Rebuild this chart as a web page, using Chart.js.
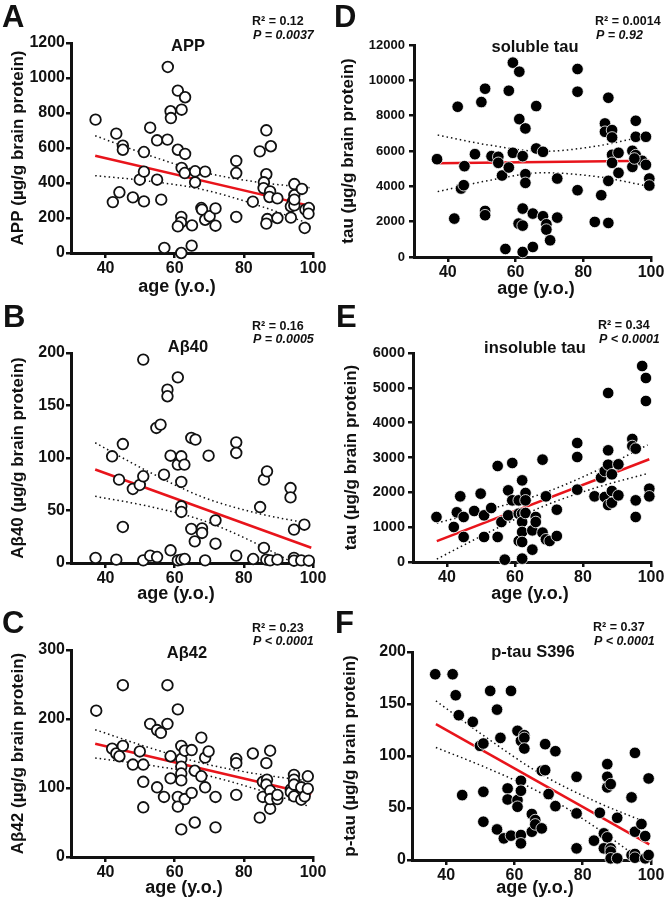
<!DOCTYPE html>
<html>
<head>
<meta charset="utf-8">
<script src="https://cdn.jsdelivr.net/npm/chart.js@4/dist/chart.umd.min.js"></script>
<style>
  body { margin: 0; background: #fff; width: 666px; height: 900px; position: relative; overflow: hidden; }
  canvas { position: absolute; }
</style>
</head>
<body>
<canvas id="panelA" width="333" height="312" style="left:0px;top:0px"></canvas>
<canvas id="panelD" width="333" height="312" style="left:333px;top:0px"></canvas>
<canvas id="panelB" width="333" height="312" style="left:0px;top:300px"></canvas>
<canvas id="panelE" width="333" height="312" style="left:333px;top:300px"></canvas>
<canvas id="panelC" width="333" height="312" style="left:0px;top:600px"></canvas>
<canvas id="panelF" width="333" height="312" style="left:333px;top:600px"></canvas>
<script>
// x axis ticks shared by all panels
var ageTicks = [40, 60, 80, 100];
var fitAge = [37, 99.5];
var bandAge = [37, 52, 68, 84, 99];

// A - APP
var appAge = [37.1, 43.1, 45.0, 45.0, 42.1, 44.0, 47.9, 51.1, 51.1, 49.9, 51.1, 52.9, 54.9, 54.9, 56.1, 57.0, 58.0, 57.9, 58.8, 58.9, 60.9, 62.0, 63.0, 60.9, 63.0, 62.0, 62.9, 61.9, 61.8, 60.9, 61.9, 64.9, 65.0, 65.9, 65.9, 67.7, 67.9, 68.8, 68.8, 70.1, 71.8, 71.8, 77.8, 77.8, 77.8, 82.6, 84.6, 86.5, 87.8, 86.5, 85.8, 85.7, 87.6, 87.4, 86.8, 86.5, 89.7, 89.7, 94.6, 94.6, 94.2, 93.6, 94.6, 93.6, 96.8, 97.8, 98.8, 98.7, 97.6, 94.6];
var appValue = [762, 682, 613, 590, 291, 347, 318, 295, 577, 419, 465, 716, 644, 419, 305, 29, 1063, 648, 810, 771, 928, 819, 890, 590, 566, 486, 457, 206, 175, 152, 0, 42, 158, 404, 467, 257, 248, 190, 465, 210, 255, 156, 457, 526, 206, 293, 581, 701, 610, 450, 404, 371, 352, 320, 194, 168, 312, 200, 394, 330, 295, 267, 272, 202, 366, 248, 257, 225, 143, 305];
var appFit = [556, 268];
var appUpper = [670, 562, 463, 405, 373];
var appLower = [442, 412, 363, 273, 167];

// D - soluble tau
var solAge = [36.8, 42.9, 41.9, 43.9, 44.7, 44.9, 48.0, 49.9, 51.0, 51.0, 51.0, 52.9, 54.9, 54.9, 56.0, 57.0, 58.0, 58.0, 59.2, 59.2, 61.1, 61.1, 62.1, 62.9, 62.9, 62.9, 62.1, 60.9, 62.1, 62.1, 65.1, 65.1, 66.1, 66.1, 68.1, 68.1, 69.1, 69.1, 70.2, 72.3, 72.3, 78.3, 78.3, 78.3, 83.4, 85.3, 87.4, 86.4, 86.4, 88.5, 88.5, 88.5, 88.5, 87.4, 87.4, 90.4, 90.4, 94.5, 94.5, 95.5, 95.5, 95.5, 97.4, 98.5, 98.5, 99.5, 99.5, 95.1];
var solValue = [5538, 8505, 2174, 3875, 4064, 5141, 5821, 8770, 9526, 2608, 2363, 5708, 5670, 5330, 4612, 454, 9412, 5065, 5897, 11000, 10490, 7806, 5708, 7277, 4687, 4196, 2741, 1890, 1777, 284, 2457, 567, 8543, 6143, 5954, 2306, 1852, 1550, 945, 4442, 2230, 10641, 9356, 3780, 1985, 3497, 9015, 7560, 7088, 7182, 6766, 5783, 5330, 4309, 1928, 5897, 4763, 6010, 5103, 7711, 6804, 5765, 5443, 6804, 5216, 4442, 4045, 5575];
var solFit = [5300, 5450];
var solUpper = [6900, 6340, 5980, 6280, 6880];
var solLower = [3700, 4330, 4770, 4550, 4020];

// B - Abeta40
var ab40Age = [37.1, 43.1, 41.9, 43.9, 45.0, 45.0, 47.9, 49.9, 50.9, 50.9, 50.9, 52.9, 54.9, 54.7, 55.9, 56.9, 57.9, 57.9, 58.8, 58.8, 60.9, 60.9, 61.9, 61.9, 61.9, 61.9, 60.9, 61.9, 62.9, 62.8, 64.8, 66.0, 64.8, 65.8, 67.9, 67.9, 68.8, 69.8, 71.8, 71.8, 77.8, 77.8, 77.8, 82.7, 84.7, 85.8, 86.7, 85.8, 86.5, 87.6, 89.7, 93.5, 93.5, 94.5, 94.5, 94.5, 96.6, 97.5, 98.8];
var ab40Value = [4.8, 3.2, 101.6, 79.4, 113.3, 34.3, 70.5, 74.3, 82.6, 193.7, 2.5, 7.0, 5.7, 128.6, 131.8, 84.1, 165.1, 158.8, 102.2, 12.1, 176.8, 93.7, 101.6, 77.2, 54.0, 48.6, 2.5, 3.2, 3.8, 93.7, 119.1, 117.5, 32.4, 20.6, 33.0, 28.6, 2.5, 102.2, 40.6, 18.4, 114.9, 104.8, 7.0, 3.8, 53.3, 79.4, 87.3, 14.3, 3.2, 2.5, 3.2, 71.4, 62.5, 31.8, 4.8, 2.2, 2.5, 36.5, 2.2];
var ab40Fit = [89, 14.5];
var ab40Upper = [114.5, 87.7, 62.9, 47.3, 37.6];
var ab40Lower = [63.5, 54.3, 40.7, 17.9, -8.4];

// E - insoluble tau
var insAge = [36.9, 42.0, 42.9, 43.9, 44.9, 44.9, 48.0, 49.9, 50.9, 50.9, 53.0, 54.9, 54.9, 56.0, 57.0, 58.0, 58.0, 59.2, 59.2, 61.1, 61.1, 61.1, 62.1, 62.1, 62.1, 62.1, 62.1, 62.1, 63.1, 63.1, 63.1, 65.1, 65.1, 66.1, 66.1, 68.1, 68.1, 69.1, 69.1, 70.2, 72.3, 72.3, 78.3, 78.3, 78.3, 83.4, 85.3, 86.4, 86.4, 87.4, 87.4, 87.4, 87.4, 88.5, 88.5, 88.5, 90.4, 90.4, 94.5, 94.5, 95.5, 95.5, 95.5, 97.4, 98.5, 98.5, 99.5, 99.5];
var insValue = [1292, 1005, 1426, 1885, 1292, 718, 1464, 1962, 1340, 718, 1550, 2756, 718, 1148, 67, 2057, 1340, 2842, 1770, 1770, 1388, 603, 2344, 1388, 1148, 861, 574, 96, 1981, 1770, 1407, 909, 354, 1292, 1148, 2938, 842, 1885, 651, 603, 1502, 746, 3416, 3014, 2077, 1885, 2421, 2612, 1866, 4852, 3206, 2794, 1636, 2517, 2038, 1703, 2804, 1914, 3531, 3330, 3254, 1770, 1292, 5627, 5282, 4622, 2105, 1885];
var insFit = [600, 2950];
var insUpper = [1117, 1500, 1964, 2623, 3360];
var insLower = [83, 838, 1586, 2139, 2540];

// C - Abeta42
var ab42Age = [37.3, 41.9, 43.1, 44.0, 45.0, 45.0, 47.9, 49.9, 50.9, 50.9, 50.9, 52.9, 54.9, 54.9, 56.0, 56.9, 57.9, 57.9, 58.8, 58.8, 60.9, 60.9, 60.9, 61.9, 61.9, 61.9, 61.9, 61.9, 61.9, 62.9, 62.9, 64.9, 64.9, 65.8, 65.8, 67.7, 67.7, 68.8, 68.8, 69.8, 71.8, 71.8, 77.8, 77.8, 77.8, 82.6, 84.6, 85.5, 85.5, 86.5, 86.7, 86.5, 87.6, 87.6, 87.6, 87.6, 89.7, 89.7, 93.6, 93.6, 94.5, 94.5, 94.5, 94.5, 96.6, 96.6, 97.6, 98.5, 98.5];
var ab42Value = [212, 157, 150, 146, 249, 161, 134, 153, 134, 109, 72, 193, 184, 101, 180, 87, 249, 193, 146, 114, 214, 87, 73, 161, 142, 131, 121, 111, 40, 154, 84, 155, 93, 125, 50, 173, 117, 144, 101, 153, 87, 43, 142, 136, 90, 150, 57, 109, 87, 136, 112, 105, 154, 96, 70, 84, 84, 90, 98, 94, 119, 112, 105, 88, 83, 101, 88, 117, 99];
var ab42Fit = [164, 91];
var ab42Upper = [184.5, 159.5, 135.9, 120.3, 109.9];
var ab42Lower = [143.5, 133.5, 119.7, 97.7, 73.1];

// F - p-tau S396
var ptauAge = [36.8, 41.9, 42.8, 43.7, 44.7, 47.8, 49.9, 50.9, 50.9, 50.9, 52.9, 54.9, 54.9, 55.9, 56.9, 58.0, 58.0, 59.0, 59.0, 60.9, 60.9, 60.9, 61.9, 61.9, 61.9, 61.9, 61.9, 62.9, 62.9, 62.9, 65.1, 65.1, 66.1, 66.1, 68.0, 68.0, 69.0, 69.0, 70.0, 72.0, 72.0, 78.2, 78.2, 78.2, 83.3, 85.0, 86.2, 87.2, 87.2, 87.2, 87.2, 86.2, 88.2, 88.2, 88.2, 88.2, 90.1, 90.1, 94.3, 94.3, 95.3, 95.3, 95.3, 95.3, 97.2, 98.3, 98.3, 99.3, 99.3];
var ptauValue = [178.6, 178.6, 158.4, 139.2, 62.4, 132.8, 109.8, 112, 65.6, 36.8, 162.6, 144.6, 29.4, 117.4, 20.8, 68.8, 58.2, 162.6, 23.4, 124.2, 57.6, 51.2, 114.6, 76.2, 66.6, 24, 16, 120, 117.4, 107.2, 44.2, 27.2, 38.4, 34.2, 85.8, 30.4, 111.4, 86.4, 63.4, 104.6, 51.8, 80, 44.8, 11.2, 18.6, 45.4, 25.6, 92.2, 80, 69.8, 21.8, 11.2, 73, 11.2, 8, 1.6, 40.6, 1.6, 60.2, 4.8, 103, 27.2, 5.8, 2.2, 34.6, 23, 1.6, 78.4, 4.8];
var ptauFit = [130.6, 15];
var ptauUpper = [153, 117.2, 82.2, 55.9, 35.7];
var ptauLower = [108.2, 88.4, 64, 30.9, -4.7];

var FONT = '"Liberation Sans", Arial, Helvetica, sans-serif';
var INK = '#111';

function pairs(xs, ys) {
    return xs.map(function (x, i) { return { x: x, y: ys[i] }; });
}

// draws panel letter, stats, panel title and x axis title
var panelText = {
    id: 'panelText',
    afterDraw: function (chart, args, o) {
        var ctx = chart.ctx;
        ctx.save();
        ctx.fillStyle = INK;
        ctx.textBaseline = 'alphabetic';
        ctx.textAlign = 'left';
        ctx.font = 'bold 31px ' + FONT;
        ctx.fillText(o.letter, o.letterPos[0], o.letterPos[1]);
        ctx.font = 'bold 12.5px ' + FONT;
        ctx.fillText(o.r2, o.statX, o.statY[0]);
        ctx.font = 'italic bold 12.5px ' + FONT;
        ctx.fillText(o.p, o.statX + 1, o.statY[1]);
        ctx.textAlign = 'center';
        ctx.font = 'bold 16.5px ' + FONT;
        ctx.fillText(o.title, o.titlePos[0], o.titlePos[1]);
        ctx.textBaseline = 'middle';
        ctx.font = 'bold 18px ' + FONT;
        ctx.fillText('age (y.o.)', o.xTitlePos[0], o.xTitlePos[1]);
        ctx.restore();
    }
};

function makePanel(p) {
    var H = 312;
    var xh = 30;
    var pointStyle = p.filled
        ? { backgroundColor: '#000', borderColor: '#fff', borderWidth: 0.8, pointRadius: 5.8 }
        : { backgroundColor: '#fff', borderColor: INK, borderWidth: 1.8, pointRadius: 5.3 };

    var datasets = [
        Object.assign({
            label: 'data',
            data: pairs(p.age, p.value),
            clip: false,
            pointHoverRadius: 0
        }, pointStyle),
        {
            label: 'fit',
            data: pairs(fitAge, p.fit),
            showLine: true,
            borderColor: '#e8141b',
            borderWidth: 2.5,
            pointRadius: 0
        },
        {
            label: 'upper',
            data: pairs(bandAge, p.upper),
            showLine: true,
            borderColor: INK,
            borderWidth: 1.5,
            borderDash: [1.5, 3],
            cubicInterpolationMode: 'monotone',
            pointRadius: 0
        },
        {
            label: 'lower',
            data: pairs(bandAge, p.lower),
            showLine: true,
            borderColor: INK,
            borderWidth: 1.5,
            borderDash: [1.5, 3],
            cubicInterpolationMode: 'monotone',
            pointRadius: 0
        }
    ];

    new Chart(document.getElementById(p.id), {
        type: 'scatter',
        data: { datasets: datasets },
        plugins: [panelText],
        options: {
            responsive: false,
            animation: false,
            events: [],
            layout: {
                padding: { left: 0, top: p.area.t, right: 333 - p.area.r, bottom: H - p.area.b - xh }
            },
            plugins: {
                legend: { display: false },
                tooltip: { enabled: false },
                panelText: p.text
            },
            scales: {
                x: {
                    type: 'linear',
                    min: 30,
                    max: 100,
                    afterBuildTicks: function (s) { s.ticks = ageTicks.map(function (v) { return { value: v }; }); },
                    afterFit: function (s) { s.height = xh; },
                    ticks: {
                        color: INK,
                        padding: 1,
                        font: { family: FONT, size: 16, weight: 'bold' },
                        callback: function (v) { return String(v); }
                    },
                    grid: { drawOnChartArea: false, color: INK, lineWidth: 2.5, tickLength: 5 },
                    border: { color: INK, width: 3 }
                },
                y: {
                    min: 0,
                    max: p.yMax,
                    afterFit: function (s) { s.width = p.area.l; },
                    ticks: {
                        stepSize: p.yStep,
                        color: INK,
                        padding: p.yTickPad,
                        font: { family: FONT, size: p.yTickSize, weight: 'bold' },
                        callback: function (v) { return String(v); }
                    },
                    title: {
                        display: true,
                        text: p.yTitle,
                        color: INK,
                        padding: { top: p.yTitlePad, bottom: 0 },
                        font: { family: FONT, size: 17, weight: 'bold' }
                    },
                    grid: { drawOnChartArea: false, color: INK, lineWidth: 2.5, tickLength: 5 },
                    border: { color: INK, width: 3 }
                }
            }
        }
    });
}

makePanel({
    id: 'panelA', area: { l: 71, r: 313, t: 43, b: 253 },
    yMax: 1200, yStep: 200, yTickSize: 16, yTickPad: 1, yTitlePad: 8,
    yTitle: 'APP (µg/g brain protein)', filled: false,
    age: appAge, value: appValue, fit: appFit, upper: appUpper, lower: appLower,
    text: { letter: 'A', letterPos: [2, 26.5], r2: 'R² = 0.12', p: 'P = 0.0037', statX: 252, statY: [25, 39],
            title: 'APP', titlePos: [188, 51], xTitlePos: [177, 287] }
});

makePanel({
    id: 'panelD', area: { l: 81, r: 318, t: 45, b: 257 },
    yMax: 12000, yStep: 2000, yTickSize: 13, yTickPad: 4, yTitlePad: 5,
    yTitle: 'tau (µg/g brain protein)', filled: true,
    age: solAge, value: solValue, fit: solFit, upper: solUpper, lower: solLower,
    text: { letter: 'D', letterPos: [1, 26.5], r2: 'R² = 0.0014', p: 'P = 0.92', statX: 262, statY: [25, 39],
            title: 'soluble tau', titlePos: [202, 51.5], xTitlePos: [203, 289] }
});

makePanel({
    id: 'panelB', area: { l: 71, r: 313, t: 53, b: 263 },
    yMax: 200, yStep: 50, yTickSize: 16, yTickPad: 1, yTitlePad: 8,
    yTitle: 'Aβ40 (µg/g brain protein)', filled: false,
    age: ab40Age, value: ab40Value, fit: ab40Fit, upper: ab40Upper, lower: ab40Lower,
    text: { letter: 'B', letterPos: [3, 27], r2: 'R² = 0.16', p: 'P = 0.0005', statX: 252, statY: [30, 43],
            title: 'Aβ40', titlePos: [188, 52], xTitlePos: [176, 294] }
});

makePanel({
    id: 'panelE', area: { l: 80, r: 318, t: 53, b: 262 },
    yMax: 6000, yStep: 1000, yTickSize: 14.5, yTickPad: 3, yTitlePad: 8,
    yTitle: 'tau (µg/g brain protein)', filled: true,
    age: insAge, value: insValue, fit: insFit, upper: insUpper, lower: insLower,
    text: { letter: 'E', letterPos: [3, 27], r2: 'R² = 0.34', p: 'P < 0.0001', statX: 265, statY: [29, 43],
            title: 'insoluble tau', titlePos: [202, 53], xTitlePos: [197, 294] }
});

makePanel({
    id: 'panelC', area: { l: 71, r: 313, t: 50, b: 257 },
    yMax: 300, yStep: 100, yTickSize: 16, yTickPad: 1, yTitlePad: 8,
    yTitle: 'Aβ42 (µg/g brain protein)', filled: false,
    age: ab42Age, value: ab42Value, fit: ab42Fit, upper: ab42Upper, lower: ab42Lower,
    text: { letter: 'C', letterPos: [2, 33], r2: 'R² = 0.23', p: 'P < 0.0001', statX: 252, statY: [31.5, 45],
            title: 'Aβ42', titlePos: [187, 58], xTitlePos: [184, 288] }
});

makePanel({
    id: 'panelF', area: { l: 79, r: 318, t: 52, b: 260 },
    yMax: 200, yStep: 50, yTickSize: 16, yTickPad: 1, yTitlePad: 7,
    yTitle: 'p-tau (µg/g brain protein)', filled: true,
    age: ptauAge, value: ptauValue, fit: ptauFit, upper: ptauUpper, lower: ptauLower,
    text: { letter: 'F', letterPos: [2, 33], r2: 'R² = 0.37', p: 'P < 0.0001', statX: 260, statY: [31, 45],
            title: 'p-tau S396', titlePos: [200, 57], xTitlePos: [202, 288] }
});
</script>
</body>
</html>
